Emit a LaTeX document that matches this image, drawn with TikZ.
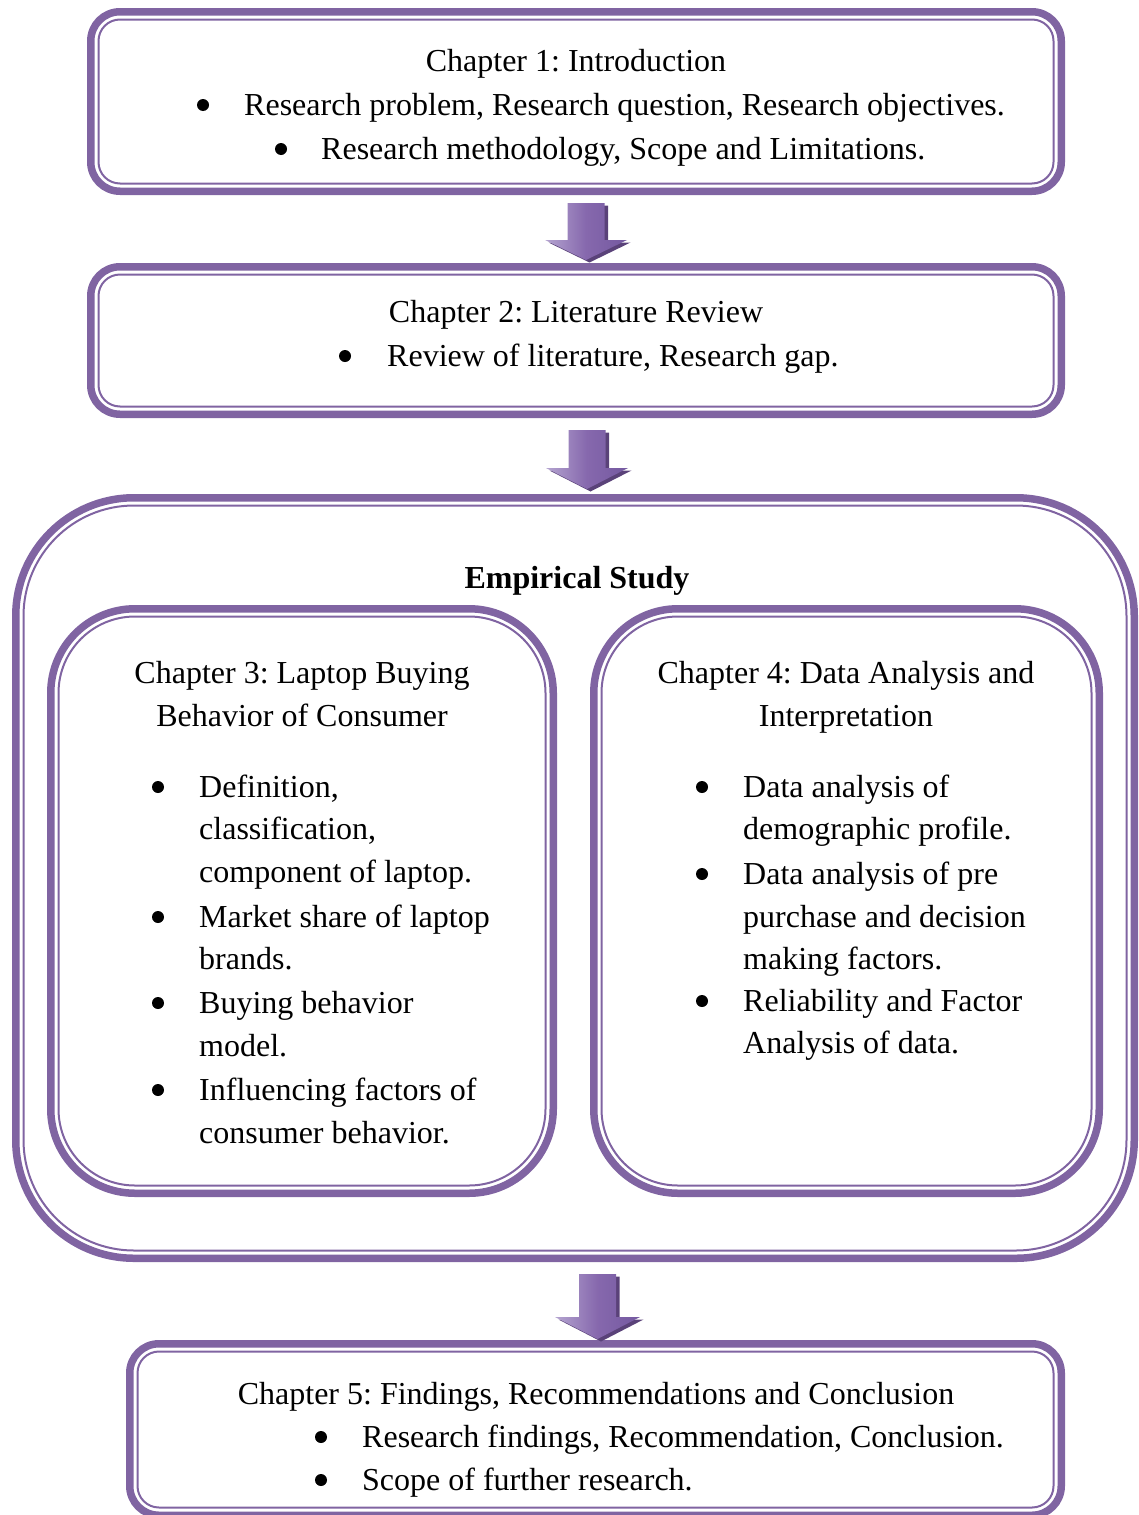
\documentclass[tikz,border=0pt]{standalone}
\usepackage{fontspec}
\setmainfont{Liberation Serif}
\usetikzlibrary{calc}
\frenchspacing

\definecolor{frame}{HTML}{8064A2}
\definecolor{arrowlight}{HTML}{B4A4D0}
\definecolor{arrowmid}{HTML}{8668AD}
\definecolor{arrowdark}{HTML}{7459A0}
\definecolor{arrowback}{HTML}{5A4279}

% double frame: thick outer band, thin inner line
\newcommand\drawframe[2]{%
  \draw[frame outer, rounded corners=#2-3.75]
    ([shift={(3.75,3.75)}]#1.north west) rectangle ([shift={(-3.75,-3.75)}]#1.south east);
  \draw[frame inner, rounded corners=#2-11.5]
    ([shift={(11.5,11.5)}]#1.north west) rectangle ([shift={(-11.5,-11.5)}]#1.south east);
}

% block arrow outline between \p1 (shaft top) and \p2 (tip)
\newcommand\arrowshape[2]{(\x1-18.5pt,\y1) -- (\x1+18.5pt,\y1) -- (\x1+18.5pt,\y2+#2)
  -- (\x1+#1,\y2+#2) -- (\x1,\y2) -- (\x1-#1,\y2+#2) -- (\x1-18.5pt,\y2+#2) -- cycle}

\newcommand\blockarrow[4]{%
  \fill[arrowback] let \p1=($(#1)+(3.5,2.5)$), \p2=($(#2)+(3.5,2.5)$) in \arrowshape{#3}{#4};
  \shade[left color=arrowlight, right color=arrowdark, middle color=arrowmid]
    let \p1=(#1), \p2=(#2) in \arrowshape{#3}{#4};
}

\begin{document}
\begin{tikzpicture}[x=1pt,y=-1pt,
  frame box/.style={rectangle, inner sep=0pt, outer sep=0pt, minimum width=#1},
  frame outer/.style={draw=frame, line width=7.5pt},
  frame inner/.style={draw=frame, line width=2pt},
  txt/.style={inner sep=0pt, font=\fontsize{32}{38}\selectfont},
  line/.style={txt, anchor=base west},
  mid/.style={txt, anchor=base},
  dot/.style={circle, fill=black, inner sep=0pt, minimum size=12pt}]

\useasboundingbox (0,0) rectangle (1139,1515);

% frames
\node[frame box=978, minimum height=187] (ch1) at (576,101.5) {};
\node[frame box=978, minimum height=155] (ch2) at (576,340.5) {};
\node[frame box=1126, minimum height=768] (emp) at (575,878) {};
\node[frame box=510, minimum height=592] (ch3) at (302,901) {};
\node[frame box=513, minimum height=592] (ch4) at (846.5,901) {};
\node[frame box=939, minimum height=179] (ch5) at (595.5,1429.5) {};

\drawframe{ch1}{33}
\drawframe{ch2}{33}
\drawframe{emp}{122}
\drawframe{ch3}{88}
\drawframe{ch4}{88}
\drawframe{ch5}{33}

% block arrows between the stages
\coordinate (a1s) at (586,203);    \coordinate (a1e) at (586,260);
\coordinate (a2s) at (587,430);    \coordinate (a2e) at (587,489);
\coordinate (a3s) at (597.5,1274); \coordinate (a3e) at (597.5,1339);
\blockarrow{a1s}{a1e}{41pt}{20pt}
\blockarrow{a2s}{a2e}{41pt}{21pt}
\blockarrow{a3s}{a3e}{42.5pt}{22pt}

% Chapter 1
\node[mid] (c1h) at (576,71) {Chapter 1: Introduction};
\node[dot] (c1d1) at (203,105) {};
\node[line] (c1l1) at (244,115) {Research problem, Research question, Research objectives.};
\node[dot] (c1d2) at (281,149) {};
\node[line] (c1l2) at (321,159) {Research methodology, Scope and Limitations.};

% Chapter 2
\node[mid] (c2h) at (576,322) {Chapter 2: Literature Review};
\node[dot] (c2d1) at (345,356) {};
\node[line] (c2l1) at (387,366) {Review of literature, Research gap.};

% Empirical study
\node[mid, font=\fontsize{32}{38}\selectfont\bfseries] (emph) at (577,588) {Empirical Study};

% Chapter 3
\node[mid] (c3h1) at (302,683) {Chapter 3: Laptop Buying};
\node[mid] (c3h2) at (302,726) {Behavior of Consumer};
\node[dot] (c3d1) at (158,787) {};
\node[line] (c3l1) at (199,797) {Definition,};
\node[line] (c3l2) at (199,839) {classification,};
\node[line] (c3l3) at (199,882) {component of laptop.};
\node[dot] (c3d2) at (158,917) {};
\node[line] (c3l4) at (199,927) {Market share of laptop};
\node[line] (c3l5) at (199,969) {brands.};
\node[dot] (c3d3) at (158,1003) {};
\node[line] (c3l6) at (199,1013) {Buying behavior};
\node[line] (c3l7) at (199,1056) {model.};
\node[dot] (c3d4) at (158,1090) {};
\node[line] (c3l8) at (199,1100) {Influencing factors of};
\node[line] (c3l9) at (199,1143) {consumer behavior.};

% Chapter 4
\node[mid] (c4h1) at (846,683) {Chapter 4: Data Analysis and};
\node[mid] (c4h2) at (846,726) {Interpretation};
\node[dot] (c4d1) at (702,787) {};
\node[line] (c4l1) at (743,797) {Data analysis of};
\node[line] (c4l2) at (743,839) {demographic profile.};
\node[dot] (c4d2) at (702,874) {};
\node[line] (c4l3) at (743,884) {Data analysis of pre};
\node[line] (c4l4) at (743,927) {purchase and decision};
\node[line] (c4l5) at (743,969) {making factors.};
\node[dot] (c4d3) at (702,1001) {};
\node[line] (c4l6) at (743,1011) {Reliability and Factor};
\node[line] (c4l7) at (743,1053) {Analysis of data.};

% Chapter 5
\node[mid] (c5h) at (596,1404) {Chapter 5: Findings, Recommendations and Conclusion};
\node[dot] (c5d1) at (321,1437) {};
\node[line] (c5l1) at (362,1447) {Research findings, Recommendation, Conclusion.};
\node[dot] (c5d2) at (321,1480) {};
\node[line] (c5l2) at (362,1490) {Scope of further research.};

\end{tikzpicture}
\end{document}
